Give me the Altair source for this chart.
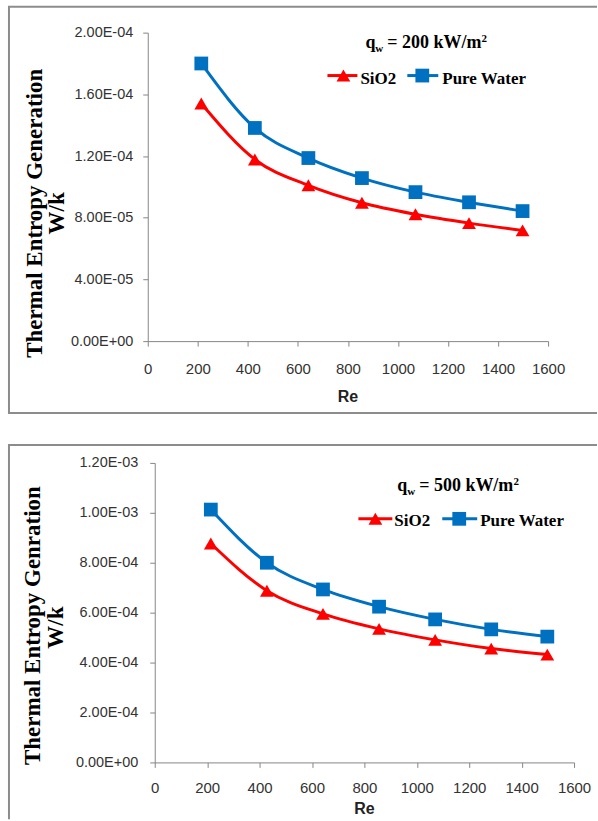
import altair as alt
import pandas as pd

# ---------------- data ----------------
re_vals = [214, 428, 642, 856, 1070, 1284, 1498]
series = ["SiO2", "Pure Water"]
colors = ["#FF0000", "#0070C0"]
shapes = ["triangle-up", "square"]

sio2_200 = [1.540e-4, 1.178e-4, 1.010e-4, 0.897e-4, 0.822e-4, 0.765e-4, 0.718e-4]
water_200 = [1.800e-4, 1.382e-4, 1.187e-4, 1.057e-4, 0.966e-4, 0.900e-4, 0.843e-4]
sio2_500 = [0.877e-3, 0.688e-3, 0.595e-3, 0.535e-3, 0.491e-3, 0.456e-3, 0.432e-3]
water_500 = [1.013e-3, 0.800e-3, 0.693e-3, 0.624e-3, 0.573e-3, 0.533e-3, 0.504e-3]

x_ticks = [0, 200, 400, 600, 800, 1000, 1200, 1400, 1600]
y_ticks_200 = [0, 4e-5, 8e-5, 1.2e-4, 1.6e-4, 2e-4]
y_ticks_500 = [0, 2e-4, 4e-4, 6e-4, 8e-4, 1e-3, 1.2e-3]

y_titles = ["Thermal Entropy Generation", "Thermal Entropy Genration"]
y_unit = "W/k"
x_title = "Re"
q_values = ["200", "500"]

SERIF = "Liberation Serif"
SANS = "Liberation Sans"
FRAME = "#8c8c8c"
AXIS = "#868686"
LABEL = "#333333"

one = pd.DataFrame({"_": [0]})


def txt(s, x, y, size, font=SERIF, weight="bold", align="left", baseline="alphabetic", angle=0, color="#000000"):
    kw = dict(text=s, font=font, fontSize=size, fontWeight=weight, align=align,
              baseline=baseline, color=color)
    if angle:
        kw["angle"] = angle
    return alt.Chart(one).mark_text(**kw).encode(x=alt.value(x), y=alt.value(y))


def panel(sio2, water, yticks, ymax, W, H, L):
    # L["dx"]: shift of the plot area's left edge relative to the shared column origin
    dx = L["dx"]
    df = pd.DataFrame({
        "Re": re_vals + re_vals,
        "S": sio2 + water,
        "series": [series[0]] * len(re_vals) + [series[1]] * len(re_vals),
    })
    x = alt.X("Re:Q", scale=alt.Scale(domain=[0, 1600], nice=False, range=[dx, dx + W]),
              axis=alt.Axis(values=x_ticks, title=None, grid=False, tickSize=5,
                            labelPadding=L["xpad"], labelFlush=False, domainColor=AXIS,
                            tickColor=AXIS, labelFont=SANS, labelFontSize=15,
                            labelColor=LABEL, format="d"))
    y = alt.Y("S:Q", scale=alt.Scale(domain=[0, ymax], nice=False),
              axis=alt.Axis(values=yticks, title=None, grid=False, tickSize=5,
                            offset=-dx,
                            labelPadding=L["ypad"], domainColor=AXIS, tickColor=AXIS,
                            labelFont=SANS, labelFontSize=14.5, labelColor=LABEL,
                            labelOverlap=False, labelFlush=False,
                            labelExpr="replace(replace(format(datum.value, '.2e'), 'e-', 'E-0'), 'e+', 'E+0')"))
    color = alt.Color("series:N", scale=alt.Scale(domain=series, range=colors), legend=None)
    shape = alt.Shape("series:N", scale=alt.Scale(domain=series, range=shapes), legend=None)

    base = alt.Chart(df)
    lines = base.mark_line(interpolate="monotone", strokeWidth=3).encode(x=x, y=y, color=color)
    points = base.mark_point(filled=True, opacity=1, size=190, strokeWidth=0).encode(
        x=x, y=y, color=color, shape=shape)

    fx1, fy1, fx2, fy2 = L["frame"]
    fx1 += dx
    fx2 += dx
    frame = [
        alt.Chart(one).mark_rule(color=FRAME, strokeWidth=2).encode(
            x=alt.value(fx1), y=alt.value(fy1), y2=alt.value(fy2)),
        alt.Chart(one).mark_rule(color=FRAME, strokeWidth=2).encode(
            x=alt.value(fx1 - 1), x2=alt.value(fx2), y=alt.value(fy1)),
    ]
    if L.get("frame_bottom", False):
        frame.append(alt.Chart(one).mark_rule(color=FRAME, strokeWidth=2).encode(
            x=alt.value(fx1 - 1), x2=alt.value(fx2), y=alt.value(fy2)))

    legend = []
    for i, s in enumerate(series):
        lx1, lx2, mx, tx = L["legend"][i]
        ly, tb = L["legend_y"], L["legend_base"]
        legend.append(alt.Chart(one).mark_rule(color=colors[i], strokeWidth=3).encode(
            x=alt.value(lx1 + dx), x2=alt.value(lx2 + dx), y=alt.value(ly)))
        legend.append(alt.Chart(one).mark_point(shape=shapes[i], filled=True, opacity=1,
                                                size=190, strokeWidth=0, color=colors[i]).encode(
            x=alt.value(mx + dx), y=alt.value(ly)))
        legend.append(txt(s, tx + dx, tb, 17))

    qx, qy, qv = L["q"]
    qx += dx
    annot = [
        txt("q", qx, qy, 18),
        txt("w", qx + 10, qy + 4, 11),
        txt("= " + qv + " kW/m", qx + 22, qy, 18),
        txt("2", qx + 22 + 94.3, qy - 6, 11),
    ]

    titles = [
        txt(L["ytitle"], L["yt1"][0] + dx, L["yt1"][1], 23, align="center", angle=270),
        txt(y_unit, L["yt2"][0] + dx, L["yt2"][1], 23, align="center", angle=270),
        txt(x_title, dx + W / 2, L["xt"], 16, font=SANS, align="center", baseline="middle",
            color="#222222"),
    ]

    return alt.layer(*frame, lines, points, *legend, *annot, *titles).properties(
        width=W + dx, height=H)


top = panel(sio2_200, water_200, y_ticks_200, 2e-4, 401, 309, dict(
    dx=-7,
    xpad=15, ypad=10,
    frame=(-139, -26, 450, 381), frame_bottom=True,
    legend=[(180, 210, 196, 213), (260, 291, 275, 295)],
    legend_y=43, legend_base=51,
    q=(218, 15.5, q_values[0]),
    ytitle=y_titles[0], yt1=(-106, 181), yt2=(-84, 181),
    xt=365,
))

bottom = panel(sio2_500, water_500, y_ticks_500, 1.2e-3, 420, 300, dict(
    dx=0,
    xpad=13, ypad=12,
    frame=(-146, -18, 443, 357), frame_bottom=False,
    legend=[(204, 238, 221, 240), (288, 323, 305, 326)],
    legend_y=56, legend_base=63,
    q=(243, 28, q_values[1]),
    ytitle=y_titles[1], yt1=(-115, 163), yt2=(-92, 165),
    xt=347,
))

chart = alt.vconcat(top, bottom, spacing=30).properties(
    padding={"left": 7, "top": 5, "right": 0, "bottom": 0}
).configure_view(stroke=None)

chart.save("out.html", embed_options={"renderer": "svg", "actions": False})
